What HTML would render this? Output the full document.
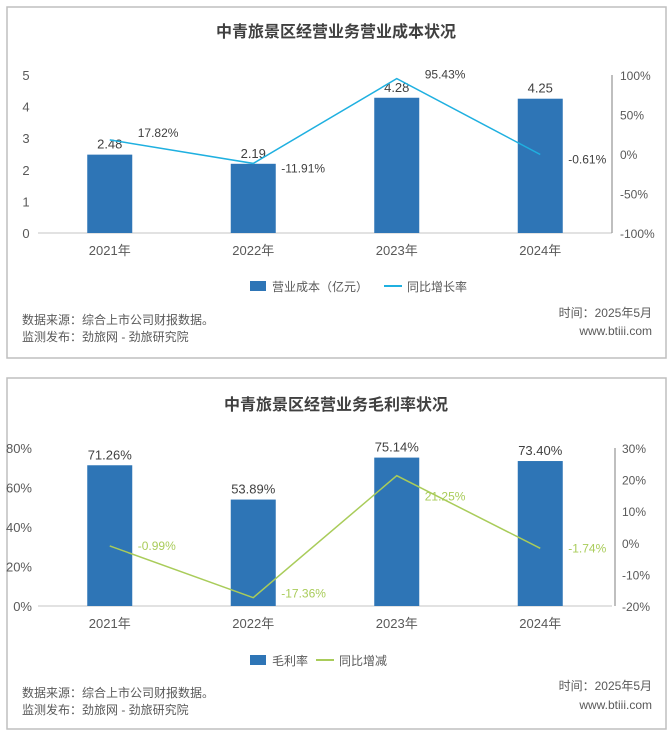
<!DOCTYPE html>
<html><head><meta charset="utf-8"><style>
html,body{margin:0;padding:0;background:#fff;}
svg{display:block;font-family:"Liberation Sans","Noto Sans CJK SC",sans-serif;}
</style></head><body>
<svg id="s" width="672" height="733" viewBox="0 0 672 733">
<rect x="7" y="7" width="659" height="351" fill="#fff" stroke="#bfbfbf" stroke-width="1.5"/>
<rect x="7" y="378" width="659" height="351" fill="#fff" stroke="#bfbfbf" stroke-width="1.5"/>
<text x="336" y="37" text-anchor="middle" font-size="16" font-weight="bold" fill="#404040">中青旅景区经营业务营业成本状况</text>
<text x="336" y="410" text-anchor="middle" font-size="16" font-weight="bold" fill="#404040">中青旅景区经营业务毛利率状况</text>
<g id="c1"></g><g id="c2"></g>
<g font-size="12" fill="#595959">
<rect x="250" y="281" width="16" height="10" fill="#2e75b6"/>
<text x="272" y="291">营业成本（亿元）</text>
<line x1="384" y1="286" x2="402" y2="286" stroke="#1fb0e0" stroke-width="2"/>
<text x="407" y="291">同比增长率</text>
<text x="22" y="324">数据来源：综合上市公司财报数据。</text>
<text x="22" y="341">监测发布：劲旅网 - 劲旅研究院</text>
<text x="652" y="317" text-anchor="end">时间：2025年5月</text>
<text x="652" y="335" text-anchor="end">www.btiii.com</text>
<rect x="250" y="655" width="16" height="10" fill="#2e75b6"/>
<text x="272" y="665">毛利率</text>
<line x1="316" y1="660" x2="334" y2="660" stroke="#a9cc5a" stroke-width="2"/>
<text x="339" y="665">同比增减</text>
<text x="22" y="697">数据来源：综合上市公司财报数据。</text>
<text x="22" y="714">监测发布：劲旅网 - 劲旅研究院</text>
<text x="652" y="690" text-anchor="end">时间：2025年5月</text>
<text x="652" y="709" text-anchor="end">www.btiii.com</text>
</g>
</svg>
<script>
const categories = ["2021年","2022年","2023年","2024年"];
const costValues = [2.48, 2.19, 4.28, 4.25];
const costGrowth = [17.82, -11.91, 95.43, -0.61];
const marginValues = [71.26, 53.89, 75.14, 73.40];
const marginChange = [-0.99, -17.36, 21.25, -1.74];
const c1LeftTicks = [0,1,2,3,4,5];
const c1RightTicks = [-100,-50,0,50,100];
const c2LeftTicks = [0,20,40,60,80];
const c2RightTicks = [-20,-10,0,10,20,30];
const NS="http://www.w3.org/2000/svg";
function mk(parent,tag,attrs,text){const e=document.createElementNS(NS,tag);for(const k in attrs)e.setAttribute(k,attrs[k]);if(text!==undefined)e.textContent=text;parent.appendChild(e);return e;}
function draw(g,cfg){
  const xL=38,xR=612,n=categories.length,step=(xR-xL)/n;
  const xc=i=>xL+step*(i+0.5);
  const yL=v=>cfg.y0-(v-cfg.lmin)/(cfg.lmax-cfg.lmin)*(cfg.y0-cfg.y1);
  const yR=v=>cfg.y0-(v-cfg.rmin)/(cfg.rmax-cfg.rmin)*(cfg.y0-cfg.y1);
  cfg.lt.forEach(t=>{const e=mk(g,"text",{x:cfg.lx,y:yL(t)+5,"text-anchor":cfg.lanchor,"font-size":13,fill:"#595959"},cfg.lfmt(t));
    
    });
  cfg.rt.forEach(t=>{const e=mk(g,"text",{x:cfg.rx,y:yR(t)+5,"font-size":12,fill:"#595959"},t+"%");
    
    });
  const ax=mk(g,"line",{x1:xL,x2:xR,y1:cfg.y0,y2:cfg.y0,stroke:"#d9d9d9","stroke-width":1.5});
  
  
  const ra=mk(g,"line",{x1:cfg.rax,x2:cfg.rax,y1:cfg.y1,y2:cfg.y0,stroke:"#7f7f7f","stroke-width":1});
  
  
  categories.forEach((c,i)=>{
    const v=cfg.bars[i],top=yL(v);
    const b=mk(g,"rect",{x:xc(i)-22.5,y:top,width:45,height:cfg.y0-top,fill:"#2e75b6"});
    
    
    const bl=mk(g,"text",{x:xc(i),y:top-6,"text-anchor":"middle","font-size":13,fill:"#404040"},cfg.bfmt(v));
    
    
    const xl=mk(g,"text",{x:xc(i),y:cfg.y0+22,"text-anchor":"middle","font-size":13,fill:"#595959"},c);
    
    
  });
  const pts=cfg.line.map((v,i)=>xc(i)+","+yR(v)).join(" ");
  const pl=mk(g,"polyline",{points:pts,fill:"none",stroke:cfg.lc,"stroke-width":1.5});
  
  
  cfg.line.forEach((v,i)=>{
    const t=mk(g,"text",{x:xc(i)+28,y:yR(v)+cfg.loff[i],"font-size":12,fill:cfg.ltc},v.toFixed(2)+"%");
    
    
  });
}
draw(document.getElementById("c1"),{y0:233,y1:75,lmin:0,lmax:5,rmin:-100,rmax:100,lt:c1LeftTicks,rt:c1RightTicks,
  lx:26,lanchor:"middle",lfmt:t=>String(t),rx:620,rax:612,bars:costValues,bfmt:v=>v.toFixed(2),
  line:costGrowth,lc:"#1fb0e0",ltc:"#404040",loff:[-3,9,0,9]});
draw(document.getElementById("c2"),{y0:606,y1:448,lmin:0,lmax:80,rmin:-20,rmax:30,lt:c2LeftTicks,rt:c2RightTicks,
  lx:32,lanchor:"end",lfmt:t=>t+"%",rx:622,rax:615,bars:marginValues,bfmt:v=>v.toFixed(2)+"%",
  line:marginChange,lc:"#a9cc5a",ltc:"#a9cc5a",loff:[4,0,25,4]});
</script>
</body></html>
